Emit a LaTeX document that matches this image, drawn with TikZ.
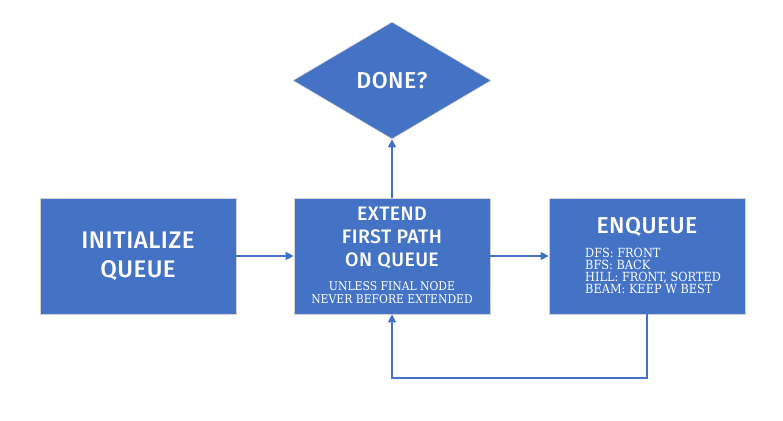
\documentclass[tikz,border=0pt]{standalone}
\usepackage{fontspec}
\setmainfont{DejaVu Serif Condensed}
\newfontfamily\headfont[LetterSpace=2]{Fira Sans Medium}
\usetikzlibrary{shapes.geometric,arrows.meta,positioning}
\definecolor{qblue}{RGB}{68,114,196}
\tikzset{stepbox/.style={rectangle, fill=qblue, draw=gray!35, line width=0.6pt,
         minimum width=196pt, minimum height=116pt, inner sep=0pt,
         text=white, align=center},
         decide/.style={diamond, fill=qblue, draw=gray!35, line width=0.6pt,
         minimum width=198pt, minimum height=117pt, inner sep=0pt,
         text=white, font=\headfont\fontsize{23}{26}\selectfont},
         title/.style={text=white, align=center, inner sep=0pt},
         note/.style={text=white, inner sep=0pt},
         flow/.style={qblue, line width=1.1pt, -{Triangle[length=8pt,width=8pt]}}}

\begin{document}
\begin{tikzpicture}[x=1pt,y=-1pt]
\useasboundingbox (0,0) rectangle (783,420);

\node [stepbox, font=\headfont\fontsize{24}{29}\selectfont] (init) at (138,256) {INITIALIZE\\QUEUE};
\node [stepbox] (extend) at (392,256) {};
\node [stepbox] (enq) at (647,256) {};
\node [decide] (done) at (392,80.5) {DONE?};

\node [title, font=\headfont\fontsize{19.5}{23}\selectfont, below=9pt of extend.north] (extendtxt) {EXTEND\\FIRST PATH\\ON QUEUE};
\node [title, font=\fontsize{12}{13}\selectfont, above=10pt of extend.south] (extendnote) {UNLESS FINAL NODE\\NEVER BEFORE EXTENDED};

\node [title, font=\headfont\fontsize{23}{26}\selectfont, below=19pt of enq.north] (enqtxt) {ENQUEUE};
\node [note, align=left, font=\fontsize{12.6}{12}\selectfont, anchor=north west] (enqnote) at (585,248) {DFS: FRONT\\BFS: BACK\\HILL: FRONT, SORTED\\BEAM: KEEP W BEST};

\draw [flow] (init) -- (extend);
\draw [flow] (extend) -- (enq);
\draw [flow] (extend) -- (done);
\coordinate (loop) at (392,378);
\draw [flow] (enq.south) |- (loop) -- (extend.south);
\end{tikzpicture}
\end{document}
